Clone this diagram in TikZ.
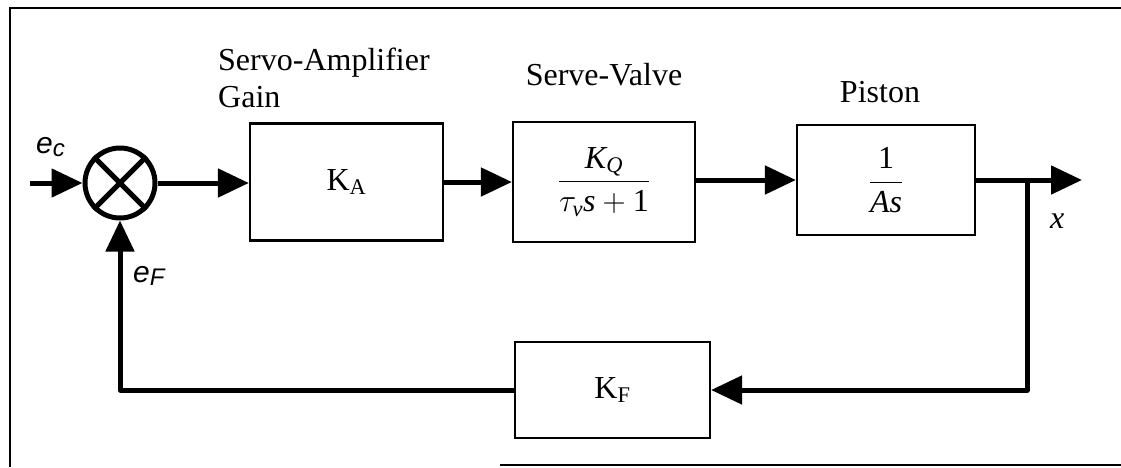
\RequirePackage{fix-cm}
\documentclass[tikz,border=0pt]{standalone}
\usepackage{amsmath}
\usepackage{fontspec}
\setmainfont{Liberation Serif}
\setsansfont{Liberation Sans}
\usetikzlibrary{arrows.meta}

\begin{document}
\begin{tikzpicture}[x=1pt,y=-1pt,
  font=\fontsize{32}{37}\selectfont,
  blk/.style={draw, line width=2.2pt, inner sep=0pt},
  conn/.style={line width=5pt, -{Triangle[length=31pt,width=28pt]}},
  wire/.style={line width=5pt},
  frameline/.style={line width=2pt},
  lbl/.style={inner sep=0pt}]
\useasboundingbox (0,0) rectangle (1121,467);

% frame
\draw[frameline] (10,467) -- (10,8) -- (1121,8);
\draw[frameline] (500,465) -- (1121,465);

% blocks
\node[draw, circle, line width=5pt, minimum size=70pt, inner sep=0pt] (sum) at (120,183) {};
\draw[line width=5pt] (sum.north west) -- (sum.south east);
\draw[line width=5pt] (sum.north east) -- (sum.south west);

\node[blk, minimum width=193pt, minimum height=117pt] (ka) at (346.5,182) {K\textsubscript{A}};
\node[blk, minimum width=182pt, minimum height=120pt] (sv) at (604,182)
  {$\dfrac{\textit{K}_{\textit{Q}}}{\tau_{\textit{v}}\textit{s}+\text{1}}$};
\node[blk, minimum width=178pt, minimum height=110pt] (pis) at (886,180)
  {$\dfrac{\text{1}}{\textit{As}}$};
\node[blk, minimum width=195pt, minimum height=96pt] (kf) at (612.5,390) {K\textsubscript{F}};

% titles
\node[lbl, anchor=base west] (t1) at (218,70) {Servo-Amplifier};
\node[lbl, anchor=base west] (t2) at (218,107) {Gain};
\node[lbl, anchor=base] (t3) at (604,85) {Serve-Valve};
\node[lbl, anchor=base] (t4) at (880,102) {Piston};

% signal labels
\node[lbl, anchor=base west, font=\fontsize{30}{36}\selectfont] (ec) at (36,153) {\textsf{\textit{e}}\raisebox{-0.25ex}{\fontsize{24}{28}\selectfont\textsf{\textit{c}}}};
\node[lbl, anchor=base west, font=\fontsize{30}{36}\selectfont] (ef) at (133,282) {\textsf{\textit{e}}\raisebox{-0.25ex}{\fontsize{24}{28}\selectfont\textsf{\textit{F}}}};
\node[lbl, anchor=base west] (xl) at (1050,228) {\textit{x}};

% coordinates
\coordinate (in) at (30,183);
\coordinate (br) at (1027,180);
\coordinate (out) at (1082,180);

% connectors
\draw[conn] (in) -- (sum.west);
\draw[conn] (sum.east) -- (sum.east -| ka.west);
\draw[conn] (ka.east) -- (sv.west |- ka.east);
\draw[conn] (sv.east |- pis.west) -- (pis.west);
\draw[wire] (pis.east) -- (br);
\draw[conn] (br) -- (out);
\draw[conn, line join=round] (br) |- (kf.east);
\draw[conn, line join=round] (kf.west) -| (sum.south);
\end{tikzpicture}
\end{document}
